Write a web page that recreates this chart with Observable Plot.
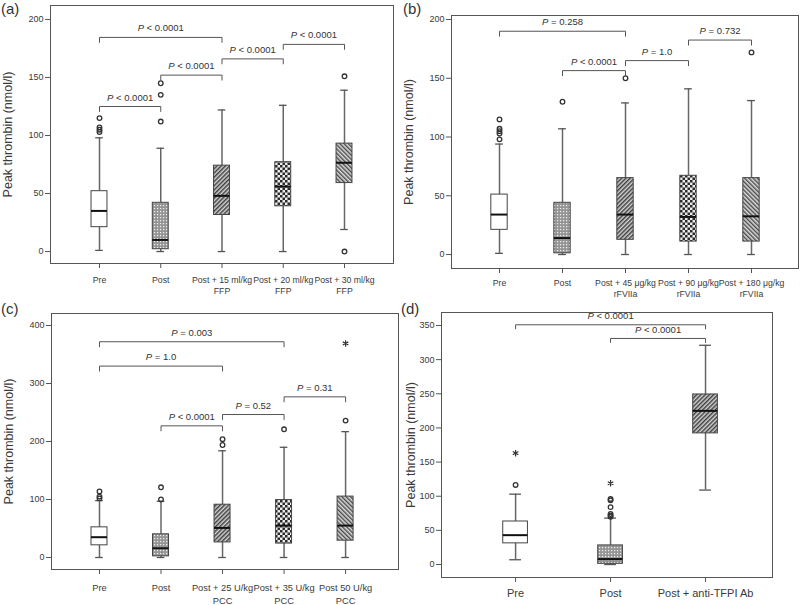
<!DOCTYPE html>
<html><head><meta charset="utf-8">
<script src="https://cdn.jsdelivr.net/npm/d3@7"></script>
<script src="https://cdn.jsdelivr.net/npm/@observablehq/plot@0.6"></script>
<style>
body{margin:0;background:#fff;font-family:"Liberation Sans",Arial,sans-serif;}
#wrap{position:relative;width:800px;height:605px;overflow:hidden;}
.panel{position:absolute;}
.tag{position:absolute;font-size:15px;color:#333;line-height:16px;}
</style></head><body>
<svg width="0" height="0" style="position:absolute">
<defs>
<pattern id="pDots" width="3" height="3" patternUnits="userSpaceOnUse">
 <rect width="3" height="3" fill="#959595"/>
 <rect x="1" y="1" width="1.2" height="1.2" fill="#f2f2f2"/>
</pattern>
<pattern id="pFwd" width="3" height="3" patternUnits="userSpaceOnUse" patternTransform="rotate(45)">
 <rect width="3" height="3" fill="#d4d4d4"/>
 <rect width="1.5" height="3" fill="#404040"/>
</pattern>
<pattern id="pBack" width="3" height="3" patternUnits="userSpaceOnUse" patternTransform="rotate(-45)">
 <rect width="3" height="3" fill="#dadada"/>
 <rect width="1.4" height="3" fill="#4a4a4a"/>
</pattern>
<pattern id="pCheck" width="5" height="5" patternUnits="userSpaceOnUse">
 <rect width="5" height="5" fill="#ececec"/>
 <rect x="0" y="0" width="2.5" height="2.5" fill="#2a2a2a"/>
 <rect x="2.5" y="2.5" width="2.5" height="2.5" fill="#2a2a2a"/>
</pattern>
</defs></svg>
<div id="wrap"></div>
<script>
// ---------- Panel (a): FFP ----------
const catsA = ["Pre", "Post", "Post + 15 ml/kg\nFFP", "Post + 20 ml/kg\nFFP", "Post + 30 ml/kg\nFFP"];
const minA = [1, 0, 0, 0, 19];
const q1A  = [21, 2, 31.5, 39, 59];
const medA = [35, 10, 48, 56, 76.5];
const q3A  = [52, 42, 74, 77, 93];
const maxA = [98, 89, 122, 126, 139];
const outA = [[103, 105, 107, 115], [112, 135, 145], [], [], [0, 151]];
const extA = [[], [], [], [], []];
const brkA = [
  {from: 1, to: 2, y: 125, label: "P < 0.0001"},
  {from: 2, to: 3, y: 152, label: "P < 0.0001"},
  {from: 3, to: 4, y: 166, label: "P < 0.0001"},
  {from: 4, to: 5, y: 178.5, label: "P < 0.0001"},
  {from: 1, to: 3, y: 184.5, label: "P < 0.0001"}
];
const ticksA = [0, 50, 100, 150, 200];

// ---------- Panel (b): rFVIIa ----------
const catsB = ["Pre", "Post", "Post + 45 μg/kg\nrFVIIa", "Post + 90 μg/kg\nrFVIIa", "Post + 180 μg/kg\nrFVIIa"];
const minB = [1, 0, 0, 0, 0];
const q1B  = [21, 1, 12.5, 11, 11];
const medB = [34, 14, 34, 32, 32.5];
const q3B  = [51, 44, 65, 67, 65];
const maxB = [94, 107, 129, 141, 131];
const outB = [[98, 103, 105, 107, 115], [130], [150], [], [172]];
const extB = [[], [], [], [], []];
const brkB = [
  {from: 1, to: 3, y: 190, label: "P = 0.258"},
  {from: 2, to: 3, y: 156.5, label: "P < 0.0001"},
  {from: 3, to: 4, y: 165, label: "P = 1.0"},
  {from: 4, to: 5, y: 182.5, label: "P = 0.732"}
];
const ticksB = [0, 50, 100, 150, 200];

// ---------- Panel (c): PCC ----------
const catsC = ["Pre", "Post", "Post + 25 U/kg\nPCC", "Post + 35 U/kg\nPCC", "Post 50 U/kg\nPCC"];
const minC = [0, 0, 0, 0, 0];
const q1C  = [21, 2, 26, 24, 29];
const medC = [35, 16, 51, 55, 55];
const q3C  = [52, 40, 91, 99, 105];
const maxC = [98, 97, 184, 190, 217];
const outC = [[102, 105, 114], [100, 121], [194, 204], [221], [236]];
const extC = [[], [], [], [], [369]];
const brkC = [
  {from: 1, to: 4, y: 372, label: "P = 0.003"},
  {from: 1, to: 3, y: 330, label: "P = 1.0"},
  {from: 2, to: 3, y: 227, label: "P < 0.0001"},
  {from: 3, to: 4, y: 246.5, label: "P = 0.52"},
  {from: 4, to: 5, y: 277, label: "P = 0.31"}
];
const ticksC = [0, 100, 200, 300, 400];

// ---------- Panel (d): anti-TFPI ----------
const catsD = ["Pre", "Post", "Post + anti-TFPI Ab"];
const minD = [7, 0, 109];
const q1D  = [31, 1, 192];
const medD = [43, 8, 225];
const q3D  = [63, 28, 249];
const maxD = [103, 68, 321];
const outD = [[116.5], [70, 72, 74, 84, 94, 96]];
const extD = [[163], [119], []];
const brkD = [
  {from: 1, to: 3, y: 351, label: "P < 0.0001"},
  {from: 2, to: 3, y: 331, label: "P < 0.0001"}
];
const ticksD = [0, 50, 100, 150, 200, 250, 300, 350];

const yTitle = "Peak thrombin (nmol/l)";
const fills5 = ["#ffffff", "url(#pDots)", "url(#pFwd)", "url(#pCheck)", "url(#pBack)"];
const fills3 = ["#ffffff", "url(#pDots)", "url(#pFwd)"];

function panel(cfg) {
  const n = cfg.cats.length;
  const boxes = cfg.cats.map((c, k) => ({i: k + 1, min: cfg.mins[k], q1: cfg.q1s[k], med: cfg.meds[k], q3: cfg.q3s[k], max: cfg.maxs[k], fill: cfg.fills[k]}));
  const outs = cfg.outs.flatMap((arr, k) => arr.map(v => ({i: k + 1, v})));
  const exts = cfg.exts.flatMap((arr, k) => arr.map(v => ({i: k + 1, v})));
  const innerH = cfg.height - cfg.mt - cfg.mb;
  const leg = cfg.legPx * (cfg.yDomain[1] - cfg.yDomain[0]) / innerH;
  const bpts = cfg.brackets.flatMap((b, j) => [
    {j, x: b.from, y: b.y - leg}, {j, x: b.from, y: b.y}, {j, x: b.to, y: b.y}, {j, x: b.to, y: b.y - leg}
  ]);
  const hw = 0.13, cw = 0.062;
  const svg = Plot.plot({
    width: cfg.width, height: cfg.height,
    marginLeft: cfg.ml, marginRight: cfg.mr, marginTop: cfg.mt, marginBottom: cfg.mb,
    x: {type: "linear", domain: cfg.xDomain},
    y: {type: "linear", domain: cfg.yDomain},
    color: {type: "identity"},
    style: {fontFamily: "'Liberation Sans', Arial, sans-serif", fontSize: "9px", color: "#3a3a3a", background: "transparent", overflow: "visible"},
    marks: [
      Plot.axisY({ticks: cfg.yTicks, tickSize: 5, tickPadding: 2, fontSize: 9, label: null, stroke: "#555"}),
      Plot.axisX({ticks: d3.range(1, n + 1), tickFormat: i => cfg.cats[i - 1], tickSize: 5, tickPadding: cfg.xPad, fontSize: cfg.xFont, lineHeight: cfg.xLine, label: null, stroke: "#555"}),
      Plot.text([yTitle], {frameAnchor: "left", textAnchor: "middle", rotate: -90, dx: -cfg.titleOff, fontSize: 12.5, fill: "#3a3a3a"}),
      Plot.ruleX(boxes, {x: "i", y1: "min", y2: "q1", stroke: "#666", strokeWidth: 1.5}),
      Plot.ruleX(boxes, {x: "i", y1: "q3", y2: "max", stroke: "#666", strokeWidth: 1.5}),
      Plot.ruleY(boxes, {y: "min", x1: d => d.i - cw, x2: d => d.i + cw, stroke: "#555", strokeWidth: 1.3}),
      Plot.ruleY(boxes, {y: "max", x1: d => d.i - cw, x2: d => d.i + cw, stroke: "#555", strokeWidth: 1.3}),
      Plot.rect(boxes, {x1: d => d.i - hw, x2: d => d.i + hw, y1: "q1", y2: "q3", fill: "fill", stroke: "#444", strokeWidth: 1}),
      Plot.ruleY(boxes, {y: "med", x1: d => d.i - hw, x2: d => d.i + hw, stroke: "#111", strokeWidth: 2}),
      Plot.dot(outs, {x: "i", y: "v", r: 2.3, stroke: "#333", strokeWidth: 1.3, fill: "none"}),
      Plot.dot(exts, {x: "i", y: "v", symbol: "asterisk", r: 3, stroke: "#333", strokeWidth: 1.2}),
      Plot.line(bpts, {x: "x", y: "y", z: "j", stroke: "#555", strokeWidth: 1, curve: "linear"}),
      Plot.text(cfg.brackets, {x: d => (d.from + d.to) / 2, y: "y", text: "label", dy: -9, fontSize: 9.5, fill: "#333"}),
      Plot.frame({stroke: "#555", strokeWidth: 1})
    ]
  });
  svg.querySelectorAll("text").forEach(t => {
    if (t.children.length === 0 && t.textContent.startsWith("P ")) {
      const rest = t.textContent.slice(1);
      t.textContent = "";
      const ts = document.createElementNS("http://www.w3.org/2000/svg", "tspan");
      ts.setAttribute("font-style", "italic");
      ts.textContent = "P";
      t.appendChild(ts);
      t.appendChild(document.createTextNode(rest));
    }
  });
  return svg;
}

const wrap = document.getElementById("wrap");
function place(svg, left, top, tag, tagLeft) {
  const d = document.createElement("div");
  d.className = "panel";
  d.style.left = left + "px"; d.style.top = top + "px";
  d.appendChild(svg);
  wrap.appendChild(d);
  const t = document.createElement("div");
  t.className = "tag";
  t.style.left = tagLeft + "px"; t.style.top = (top + 1) + "px";
  t.textContent = tag;
  wrap.appendChild(t);
}

place(panel({cats: catsA, mins: minA, q1s: q1A, meds: medA, q3s: q3A, maxs: maxA, outs: outA, exts: extA, brackets: brkA, fills: fills5,
  yTicks: ticksA, width: 400, height: 300, ml: 50, mr: 7, mt: 5, mb: 37, yDomain: [-10.3, 212], xDomain: [0.2, 5.8],
  xPad: 6, xFont: 8.7, xLine: 1.3, titleOff: 43, legPx: 5}), 0, 0, "(a)", 1);
place(panel({cats: catsB, mins: minB, q1s: q1B, meds: medB, q3s: q3B, maxs: maxB, outs: outB, exts: extB, brackets: brkB, fills: fills5,
  yTicks: ticksB, width: 400, height: 300, ml: 51, mr: 2, mt: 15, mb: 32, yDomain: [-11.9, 203.4], xDomain: [0.238, 5.746],
  xPad: 4, xFont: 8.7, xLine: 1.3, titleOff: 43, legPx: 5}), 400, 0, "(b)", 403);
place(panel({cats: catsC, mins: minC, q1s: q1C, meds: medC, q3s: q3C, maxs: maxC, outs: outC, exts: extC, brackets: brkC, fills: fills5,
  yTicks: ticksC, width: 400, height: 305, ml: 51, mr: 2, mt: 13, mb: 36, yDomain: [-20.7, 420.7], xDomain: [0.22, 5.86],
  xPad: 7, xFont: 9.3, xLine: 1.4, titleOff: 43, legPx: 5}), 0, 300, "(c)", 1);
place(panel({cats: catsD, mins: minD, q1s: q1D, meds: medD, q3s: q3D, maxs: maxD, outs: outD, exts: extD, brackets: brkD, fills: fills3,
  yTicks: ticksD, width: 400, height: 305, ml: 41, mr: 28, mt: 12, mb: 28, yDomain: [-19, 369], xDomain: [0.22, 3.705],
  xPad: 5, xFont: 11, xLine: 1.2, titleOff: 31, legPx: 4}), 400, 300, "(d)", 401);
</script>
</body></html>
